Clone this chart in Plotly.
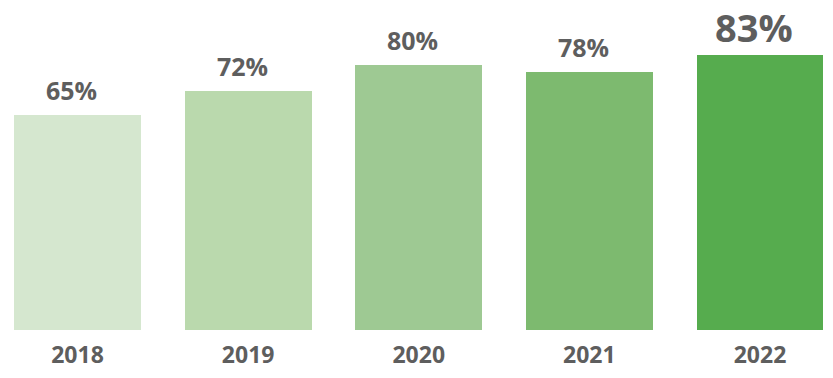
import plotly.graph_objects as go

years = ["2018", "2019", "2020", "2021", "2022"]
values = [65, 72, 80, 78, 83]
colors = ["#d5e7cf", "#bad9ad", "#9ec993", "#7dba6f", "#56ac4e"]
label_sizes = [25, 25, 25, 25, 38]
label_shifts = [6, 6, 6, 6, 0]

xpos = list(range(len(years)))

fig = go.Figure()
fig.add_trace(go.Bar(
    x=xpos, y=values, marker=dict(color=colors, line=dict(width=0)),
    width=0.744, hoverinfo="skip", showlegend=False,
))

for i, (v, s, sh) in enumerate(zip(values, label_sizes, label_shifts)):
    fig.add_annotation(
        x=i - 0.035, y=v, text=f"{v}%", showarrow=False,
        yanchor="bottom", yshift=sh,
        font=dict(family="Open Sans", size=s, color="#5e5e5e", weight="bold"),
    )

fig.update_layout(
    width=825, height=370,
    margin=dict(l=0, r=0, t=0, b=48),
    paper_bgcolor="white", plot_bgcolor="white",
    bargap=0,
    xaxis=dict(
        range=[-0.4074, 4.428], tickmode="array", tickvals=xpos, ticktext=years,
        showgrid=False, zeroline=False, showline=False, ticks="",
        tickfont=dict(family="Open Sans", size=23, color="#5e5e5e", weight="bold"),
        ticklabelstandoff=9,
    ),
    yaxis=dict(range=[0, 97.2], visible=False),
)

fig.write_html("out.html")
